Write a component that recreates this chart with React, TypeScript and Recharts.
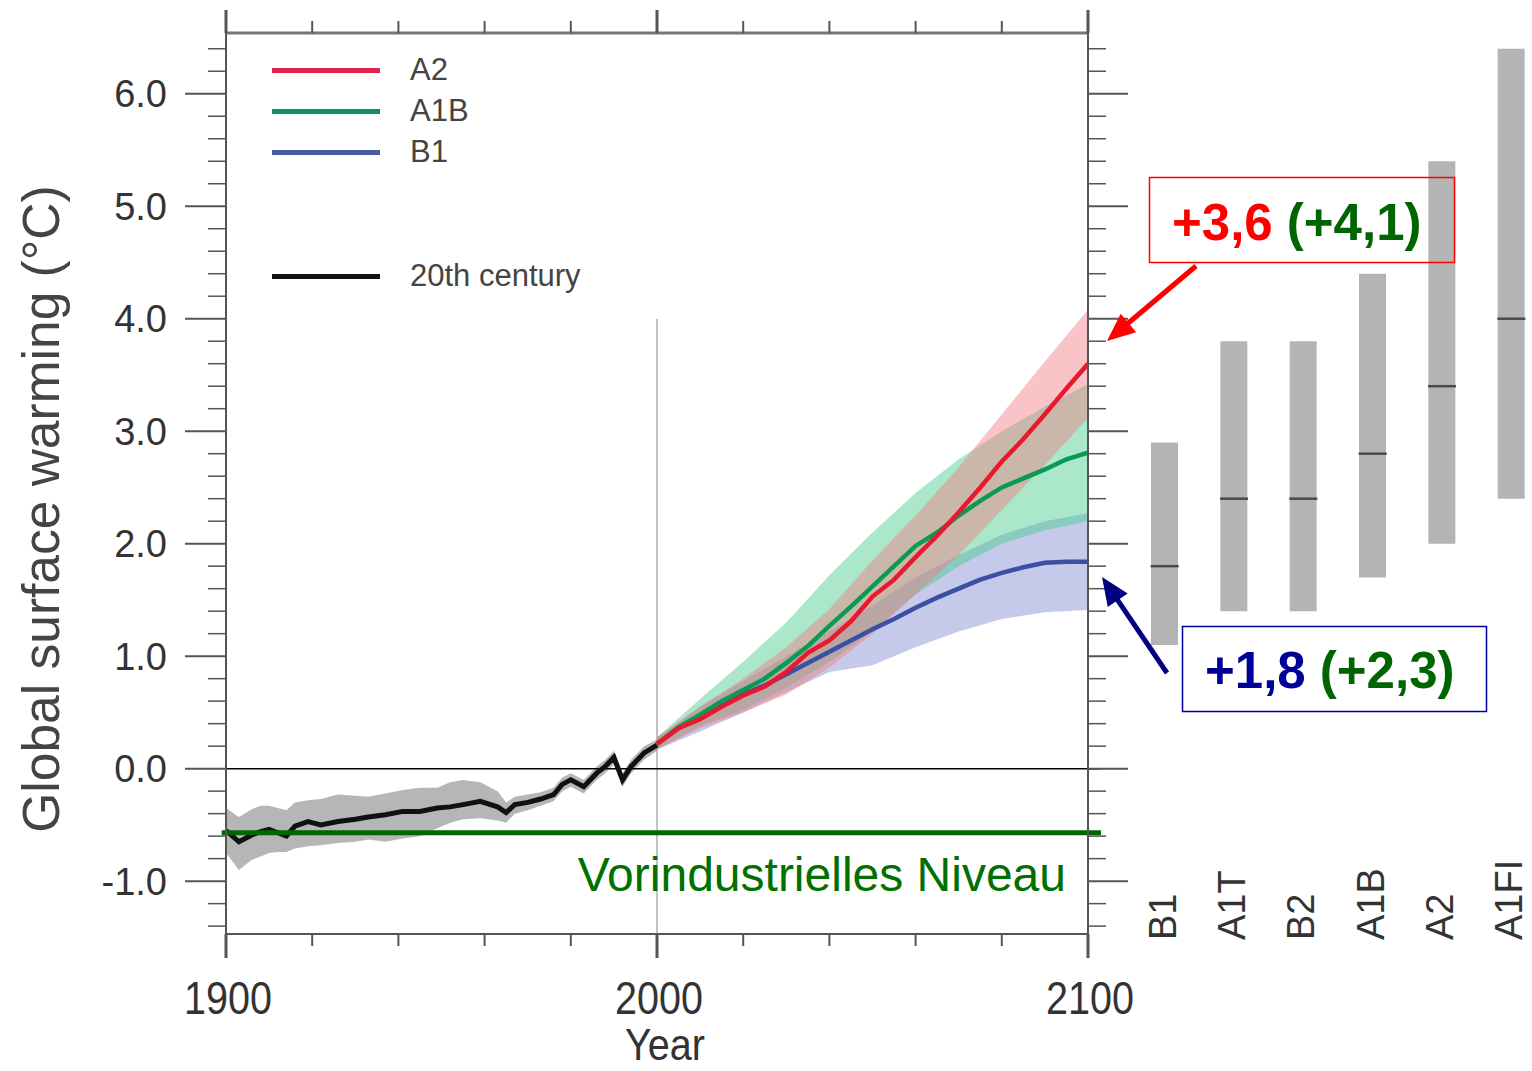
import React from 'react';
import {
  ComposedChart,
  Line,
  Area,
  Bar,
  XAxis,
  YAxis,
  ReferenceLine,
  Legend,
} from 'recharts';

// 20th century observations (deg C, relative to 1980-99)
const histYears = [1900, 1903, 1906, 1908, 1910, 1912, 1914, 1916, 1919, 1922, 1926, 1930, 1933, 1937, 1941, 1945, 1949, 1952, 1955, 1959, 1963, 1965, 1967, 1970, 1973, 1976, 1978, 1980, 1983, 1986, 1988, 1990, 1992, 1994, 1997, 2000];
const histMean = [-0.55, -0.65, -0.59, -0.56, -0.54, -0.57, -0.6, -0.51, -0.47, -0.5, -0.47, -0.45, -0.43, -0.41, -0.38, -0.38, -0.35, -0.34, -0.32, -0.29, -0.34, -0.39, -0.32, -0.3, -0.27, -0.23, -0.14, -0.1, -0.16, -0.04, 0.02, 0.1, -0.1, 0.02, 0.14, 0.21];
const histLow = [-0.75, -0.9, -0.81, -0.78, -0.75, -0.74, -0.74, -0.71, -0.69, -0.68, -0.66, -0.65, -0.63, -0.65, -0.62, -0.6, -0.53, -0.48, -0.45, -0.44, -0.46, -0.48, -0.4, -0.37, -0.33, -0.29, -0.2, -0.16, -0.22, -0.1, -0.04, 0.04, -0.16, -0.04, 0.08, 0.16];
const histHigh = [-0.35, -0.43, -0.36, -0.33, -0.33, -0.35, -0.37, -0.3, -0.28, -0.27, -0.23, -0.24, -0.25, -0.22, -0.19, -0.17, -0.17, -0.12, -0.1, -0.12, -0.2, -0.3, -0.25, -0.23, -0.21, -0.17, -0.08, -0.04, -0.1, 0.02, 0.08, 0.16, -0.04, 0.08, 0.2, 0.26];

// scenario means
const projYears = [2000, 2005, 2010, 2015, 2020, 2025, 2030, 2035, 2040, 2045, 2050, 2055, 2060, 2065, 2070, 2075, 2080, 2085, 2090, 2095, 2100];
const a2Mean = [0.22, 0.36, 0.44, 0.55, 0.65, 0.73, 0.86, 1.03, 1.14, 1.31, 1.53, 1.68, 1.88, 2.07, 2.28, 2.5, 2.73, 2.93, 3.15, 3.38, 3.6];
const a1bMean = [0.22, 0.37, 0.48, 0.6, 0.7, 0.8, 0.94, 1.09, 1.27, 1.44, 1.62, 1.8, 1.98, 2.1, 2.25, 2.38, 2.5, 2.58, 2.66, 2.75, 2.81];
const b1Mean = [0.22, 0.36, 0.46, 0.56, 0.66, 0.74, 0.84, 0.94, 1.04, 1.14, 1.24, 1.33, 1.43, 1.52, 1.6, 1.68, 1.74, 1.79, 1.83, 1.84, 1.84];

// scenario spread (+/- 1 sd)
const bandYears = [2000, 2010, 2020, 2030, 2040, 2050, 2060, 2070, 2080, 2090, 2100];
const a2Low = [0.17, 0.36, 0.5, 0.66, 0.9, 1.2, 1.55, 1.9, 2.3, 2.7, 3.12];
const a2High = [0.28, 0.55, 0.8, 1.08, 1.42, 1.85, 2.25, 2.68, 3.15, 3.62, 4.08];
const a1bLow = [0.17, 0.38, 0.52, 0.72, 0.95, 1.22, 1.55, 1.8, 2.0, 2.12, 2.2];
const a1bHigh = [0.28, 0.62, 0.95, 1.3, 1.72, 2.1, 2.45, 2.75, 3.0, 3.22, 3.42];
const b1Low = [0.17, 0.33, 0.5, 0.68, 0.86, 0.92, 1.08, 1.22, 1.33, 1.39, 1.41];
const b1High = [0.28, 0.55, 0.78, 1.0, 1.22, 1.45, 1.7, 1.9, 2.08, 2.2, 2.27];

// likely ranges for 2090-2099 (right panel)
const scenarios = ['B1', 'A1T', 'B2', 'A1B', 'A2', 'A1FI'];
const scenLow = [1.1, 1.4, 1.4, 1.7, 2.0, 2.4];
const scenHigh = [2.9, 3.8, 3.8, 4.4, 5.4, 6.4];
const scenBest = [1.8, 2.4, 2.4, 2.8, 3.4, 4.0];

const yTicks = [-1.4, -1.2, -1.0, -0.8, -0.6, -0.4, -0.2, 0, 0.2, 0.4, 0.6, 0.8, 1.0, 1.2, 1.4, 1.6, 1.8, 2.0, 2.2, 2.4, 2.6, 2.8, 3.0, 3.2, 3.4, 3.6, 3.8, 4.0, 4.2, 4.4, 4.6, 4.8, 5.0, 5.2, 5.4, 5.6, 5.8, 6.0, 6.2, 6.4];
const xTicks = [1900, 1920, 1940, 1960, 1980, 2000, 2020, 2040, 2060, 2080, 2100];

const legendItems = [
  { name: 'A2', color: '#e0234b', top: 0 },
  { name: 'A1B', color: '#14905c', top: 41 },
  { name: 'B1', color: '#4b5aa6', top: 82 },
  { name: '20th century', color: '#111', top: 206 },
];

const FONT = "'Liberation Sans', Arial, sans-serif";
const Y_DOMAIN: [number, number] = [-1.47, 6.54];
const AXIS = '#555';

const histData = histYears.map((year, i) => ({ year, mean: histMean[i], range: [histLow[i], histHigh[i]] }));
const projData = projYears.map((year, i) => ({ year, a2: a2Mean[i], a1b: a1bMean[i], b1: b1Mean[i] }));
const bandData = bandYears.map((year, i) => ({
  year,
  a2: [a2Low[i], a2High[i]],
  a1b: [a1bLow[i], a1bHigh[i]],
  b1: [b1Low[i], b1High[i]],
}));
const scenData = scenarios.map((name, i) => ({ name, range: [scenLow[i], scenHigh[i]], best: scenBest[i] }));

const isMajorY = (v: number) => Math.abs(v - Math.round(v)) < 1e-6;
const isMajorX = (v: number) => v % 100 === 0;

const LeftTick = ({ x, y, payload }: any) => {
  const major = isMajorY(payload.value);
  return (
    <g>
      <line x1={x - (major ? 41 : 18)} x2={x} y1={y} y2={y} stroke={AXIS} strokeWidth={major ? 2 : 1.5} />
      {major && (
        <text x={x - 59} y={y} dy="0.36em" textAnchor="end" fontSize={38} fill="#333" fontFamily={FONT}>
          {payload.value.toFixed(1)}
        </text>
      )}
    </g>
  );
};

const RightTick = ({ x, y, payload }: any) => {
  const major = isMajorY(payload.value);
  return <line x1={x} x2={x + (major ? 40 : 18)} y1={y} y2={y} stroke={AXIS} strokeWidth={major ? 2 : 1.5} />;
};

const TopTick = ({ x, y, payload }: any) => {
  const major = isMajorX(payload.value);
  return <line x1={x} x2={x} y1={y - (major ? 23 : 12)} y2={y} stroke={AXIS} strokeWidth={major ? 3 : 2} />;
};

const BottomTick = ({ x, y, payload }: any) => {
  const major = isMajorX(payload.value);
  return (
    <g>
      <line x1={x} x2={x} y1={y} y2={y + (major ? 24 : 12)} stroke={AXIS} strokeWidth={major ? 3 : 2} />
      {major && (
        <text x={x + 2} y={y + 80} textAnchor="middle" fontSize={46} fill="#333" fontFamily={FONT}
          textLength={88} lengthAdjust="spacingAndGlyphs">
          {payload.value}
        </text>
      )}
    </g>
  );
};

const ScenarioTick = ({ x, y, payload }: any) => (
  <text transform={`translate(${x + 11}, ${y + 6}) rotate(-90)`} fontSize={38} fill="#333" fontFamily={FONT}>
    {payload.value}
  </text>
);

const MedianDot = ({ cx, cy, index }: any) => (
  <line key={`m-${index}`} x1={cx - 14} x2={cx + 14} y1={cy} y2={cy} stroke="#4a4a4a" strokeWidth={2.5} />
);

const YTitle = () => (
  <text transform="translate(59, 509) rotate(-90)" textAnchor="middle" fontSize={51.5} fill="#444" fontFamily={FONT}>
    Global surface warming (°C)
  </text>
);

const XTitle = () => (
  <text x={665} y={1060} textAnchor="middle" fontSize={44} fill="#333" fontFamily={FONT}
    textLength={80} lengthAdjust="spacingAndGlyphs">
    Year
  </text>
);

const renderLegend = () => (
  <div style={{ position: 'relative', width: 340, height: 250, fontFamily: FONT, fontSize: 31, color: '#444' }}>
    {legendItems.map((item) => (
      <div key={item.name} style={{ position: 'absolute', left: 0, top: item.top, height: 40, display: 'flex', alignItems: 'center', whiteSpace: 'nowrap' }}>
        <div style={{ width: 108, height: 5, background: item.color }} />
        <span style={{ marginLeft: 30 }}>{item.name}</span>
      </div>
    ))}
  </div>
);

function arrow(x1: number, y1: number, x2: number, y2: number, color: string) {
  const dx = x2 - x1;
  const dy = y2 - y1;
  const len = Math.hypot(dx, dy);
  const ux = dx / len;
  const uy = dy / len;
  const head = 28;
  const half = 12;
  const bx = x2 - ux * head;
  const by = y2 - uy * head;
  const pts = `${x2},${y2} ${bx - uy * half},${by + ux * half} ${bx + uy * half},${by - ux * half}`;
  return (
    <g>
      <line x1={x1} y1={y1} x2={bx + ux * 4} y2={by + uy * 4} stroke={color} strokeWidth={5} />
      <polygon points={pts} fill={color} />
    </g>
  );
}

export default function App() {
  return (
    <div style={{ position: 'absolute', left: 0, top: 0, width: 1532, height: 1071, overflow: 'hidden', background: '#fff' }}>
      <ComposedChart width={1532} height={1071} margin={{ top: 0, right: 0, bottom: 0, left: 0 }}>
        <XAxis xAxisId={0} dataKey="year" type="number" domain={[1900, 2100]} allowDataOverflow ticks={xTicks}
          orientation="bottom" height={137} interval={0} tickSize={0} tickMargin={0} tickLine={false}
          axisLine={{ stroke: AXIS, strokeWidth: 2 }} tick={<BottomTick />} label={<XTitle />} />
        <XAxis xAxisId="top" dataKey="year" type="number" domain={[1900, 2100]} allowDataOverflow ticks={xTicks}
          orientation="top" height={33} interval={0} tickSize={0} tickMargin={0} tickLine={false}
          axisLine={{ stroke: '#777', strokeWidth: 3 }} tick={<TopTick />} />
        <YAxis yAxisId={0} type="number" domain={Y_DOMAIN} allowDataOverflow ticks={yTicks} orientation="left"
          width={226} interval={0} tickSize={0} tickMargin={0} tickLine={false}
          axisLine={{ stroke: AXIS, strokeWidth: 2 }} tick={<LeftTick />} label={<YTitle />} />
        <YAxis yAxisId="right" type="number" domain={Y_DOMAIN} allowDataOverflow ticks={yTicks} orientation="right"
          width={444} interval={0} tickSize={0} tickMargin={0} tickLine={false}
          axisLine={{ stroke: AXIS, strokeWidth: 2 }} tick={<RightTick />} />

        <Legend layout="vertical" align="center" verticalAlign="middle" content={renderLegend}
          wrapperStyle={{ left: 272, top: 50, width: 340, height: 250 }} />

        <ReferenceLine segment={[{ x: 2000, y: 4.0 }, { x: 2000, y: -1.47 }]} stroke="#999" strokeWidth={1.2} ifOverflow="visible" />

        <Area data={histData} dataKey="range" type="linear" stroke="none" fill="#a9a9a9" fillOpacity={0.85} isAnimationActive={false} />
        <Area data={bandData} dataKey="b1" type="linear" stroke="none" fill="#9ea6dd" fillOpacity={0.6} isAnimationActive={false} />
        <Area data={bandData} dataKey="a1b" type="linear" stroke="none" fill="#45c98a" fillOpacity={0.45} isAnimationActive={false} />
        <Area data={bandData} dataKey="a2" type="linear" stroke="none" fill="#f27a82" fillOpacity={0.45} isAnimationActive={false} />

        <ReferenceLine segment={[{ x: 1900, y: 0 }, { x: 2103, y: 0 }]} stroke="#000" strokeWidth={1.5} ifOverflow="visible" />

        <Line data={projData} dataKey="b1" type="linear" stroke="#3b4fa3" strokeWidth={4.5} dot={false} isAnimationActive={false} />
        <Line data={projData} dataKey="a1b" type="linear" stroke="#0a9a55" strokeWidth={4.5} dot={false} isAnimationActive={false} />
        <Line data={projData} dataKey="a2" type="linear" stroke="#e8192c" strokeWidth={4.5} dot={false} isAnimationActive={false} />
        <Line data={histData} dataKey="mean" type="linear" stroke="#111" strokeWidth={5} dot={false} isAnimationActive={false} />

        <ReferenceLine segment={[{ x: 1899, y: -0.57 }, { x: 2103, y: -0.57 }]} stroke="#006600" strokeWidth={5} ifOverflow="visible" />
      </ComposedChart>

      <div style={{ position: 'absolute', left: 1130, top: 0 }}>
        <ComposedChart width={416} height={1071} data={scenData} margin={{ top: 33, right: 0, bottom: 0, left: 0 }}>
          <XAxis dataKey="name" height={137} axisLine={false} tickLine={false} tickSize={0} tickMargin={0}
            interval={0} tick={<ScenarioTick />} />
          <YAxis hide type="number" domain={Y_DOMAIN} allowDataOverflow />
          <Bar dataKey="range" fill="#b4b4b4" barSize={27} isAnimationActive={false} />
          <Line dataKey="best" stroke="none" dot={<MedianDot />} activeDot={false} isAnimationActive={false} />
        </ComposedChart>
      </div>

      <svg width={1532} height={1071} style={{ position: 'absolute', left: 0, top: 0, pointerEvents: 'none' }}>
        <text x={1066} y={891} textAnchor="end" fontSize={48} fill="#007000" fontFamily={FONT}>
          Vorindustrielles Niveau
        </text>

        <rect x={1149.5} y={177.5} width={305} height={85} fill="none" stroke="#ff0000" strokeWidth={1.5} />
        <text x={1172} y={240} fontSize={51} fontWeight="bold" fontFamily={FONT}>
          <tspan fill="#ff0000">+3,6</tspan>
          <tspan fill="#006400"> (+4,1)</tspan>
        </text>
        {arrow(1196, 266, 1107, 341, '#ff0000')}

        <rect x={1182.5} y={626.5} width={304} height={85} fill="none" stroke="#000099" strokeWidth={1.5} />
        <text x={1205} y={688} fontSize={51} fontWeight="bold" fontFamily={FONT}>
          <tspan fill="#000099">+1,8</tspan>
          <tspan fill="#006400"> (+2,3)</tspan>
        </text>
        {arrow(1167, 673, 1102, 577, '#000080')}
      </svg>
    </div>
  );
}
